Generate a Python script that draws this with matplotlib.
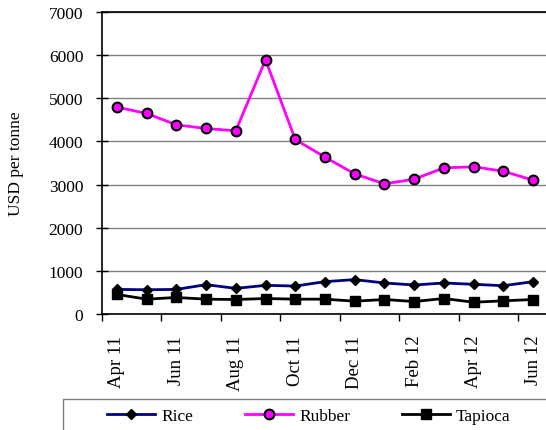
import numpy as np
import matplotlib
matplotlib.use("Agg")
import matplotlib.pyplot as plt
from matplotlib.patches import Rectangle

# 数据
months = ["Apr 11", "May 11", "Jun 11", "Jul 11", "Aug 11", "Sep 11", "Oct 11", "Nov 11",
          "Dec 11", "Jan 12", "Feb 12", "Mar 12", "Apr 12", "May 12", "Jun 12"]
rice = [570, 562, 570, 680, 594, 664, 648, 750, 797, 719, 672, 719, 688, 656, 750]
rubber = [4795, 4648, 4385, 4300, 4246, 5893, 4045, 3635, 3248, 3016, 3125, 3387, 3411, 3310, 3101]
tapioca = [453, 344, 383, 344, 336, 359, 344, 344, 297, 336, 289, 359, 273, 305, 336]

plt.rcParams["font.family"] = ["Liberation Serif", "DejaVu Serif"]
plt.rcParams["font.size"] = 12.5

W, H = 546, 431
fig = plt.figure(figsize=(W / 100, H / 100), dpi=100)
ax = fig.add_axes([102 / W, (H - 315) / H, (548 - 102) / W, (315 - 13) / H])

x = np.arange(len(months))
ax.plot(x, rice, color="#000080", lw=2, marker="D", ms=5.5,
        mfc="black", mec="black", label="Rice", zorder=3)
ax.plot(x, rubber, color="#FF00FF", lw=2, marker="o", ms=7,
        mfc="#FF00FF", mec="black", mew=1.5, label="Rubber", zorder=3)
ax.plot(x, tapioca, color="black", lw=2, marker="s", ms=6.5,
        mfc="black", mec="black", label="Tapioca", zorder=3)

# 坐标轴
ax.set_ylim(0, 7000)
ax.set_yticks(np.arange(0, 7001, 1000))
ax.set_xlim(-0.5, len(months) - 0.5)
ax.set_xticks(np.arange(-0.5, len(months), 2))
ax.set_xticklabels([])
ax.set_xticks(x[::2], minor=True)
ax.set_xticklabels(months[::2], minor=True, rotation=90, fontsize=13.5)
ax.tick_params(axis="x", which="major", direction="out", length=5, width=1)
ax.tick_params(axis="x", which="minor", length=0, pad=15)
ax.tick_params(axis="y", direction="inout", length=9, width=1, pad=9)

ax.grid(axis="y", color="#808080", lw=1)
ax.set_axisbelow(True)
ax.spines["right"].set_visible(False)
for s in ["left", "bottom", "top"]:
    ax.spines[s].set_linewidth(1.2)
ax.set_ylabel("USD per tonne", labelpad=18)

# 图例
fig.patches.append(Rectangle((63 / W, -0.1), 1.0, (H - 400) / H + 0.1,
                             transform=fig.transFigure, fill=False,
                             edgecolor="#808080", lw=1, clip_on=False))
fig.legend(loc="center", bbox_to_anchor=(309 / W, (H - 417) / H), ncol=3,
           frameon=False, handlelength=2.75, columnspacing=3.0, handletextpad=0.35,
           borderaxespad=0)

fig.savefig("out.png", dpi=100)
